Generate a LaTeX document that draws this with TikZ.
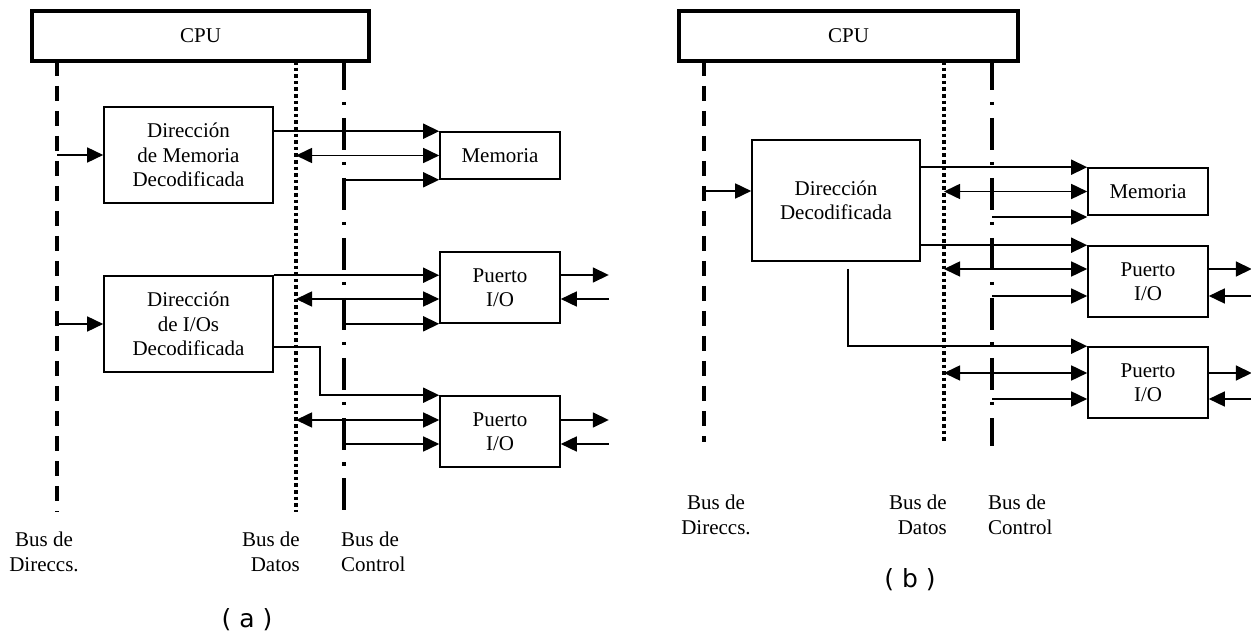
\documentclass[tikz,border=0pt]{standalone}
\usepackage{fontspec}
\setmainfont{Liberation Serif}
\newfontfamily\capfont{DejaVu Sans}
\usetikzlibrary{arrows.meta}
\begin{document}
\begin{tikzpicture}[x=1pt,y=-1pt,
  every node/.style={font=\fontsize{21}{24.5}\selectfont},
  box/.style={draw,line width=1.6pt,inner sep=0pt,align=center,fill=white},
  cpubox/.style={draw,line width=3.5pt,fill=white,inner sep=0pt},
  conn/.style={line width=1.6pt},
  arr/.style={conn,-{Triangle[length=16pt,width=15pt]}},
  darr/.style={conn,{Triangle[length=16pt,width=15pt]}-{Triangle[length=16pt,width=15pt]}},
  abus/.style={line width=3.4pt,dash pattern=on 15pt off 10pt},
  dbus/.style={line width=3.4pt,dash pattern=on 3.6pt off 3pt},
  cbus/.style={line width=3.4pt,dash pattern=on 32pt off 12pt on 3.5pt off 12.5pt,dash phase=3pt},
  lbl/.style={inner sep=0pt},
  captionlbl/.style={font=\capfont\fontsize{25}{28}\selectfont}
]
\useasboundingbox (0,0) rectangle (1251,636);

% ---------------- Panel (a) ----------------
\coordinate (aAt) at (57,61);  \coordinate (aAb) at (57,512);
\coordinate (dAt) at (296,61); \coordinate (dAb) at (296,512);
\coordinate (cAt) at (344,61); \coordinate (cAb) at (344,512);
\draw[abus] (aAt) -- (aAb);
\draw[dbus] (dAt) -- (dAb);
\draw[cbus] (cAt) -- (cAb);

\node[cpubox,minimum width=337pt,minimum height=50pt] (cpuA) at (200.5,36) {CPU};
\node[box,minimum width=169pt,minimum height=96pt] (memdecA) at (188.5,155) {Dirección\\de Memoria\\Decodificada};
\node[box,minimum width=169pt,minimum height=96pt] (iodecA) at (188.5,324) {Dirección\\de I/Os\\Decodificada};
\node[box,minimum width=120pt,minimum height=47pt] (memA) at (500,155.5) {Memoria};
\node[box,minimum width=120pt,minimum height=71pt] (p1A) at (500,287.5) {Puerto\\I/O};
\node[box,minimum width=120pt,minimum height=71pt] (p2A) at (500,431.5) {Puerto\\I/O};

\draw[arr] (aAt |- memdecA.west) -- (memdecA.west);
\draw[arr] (memdecA.east |- memA.north) -- (memA.north west);
\draw[darr] (dAt |- memA.west) -- (memA.west);
\draw[arr] (cAt |- memA.south west) -- (memA.south west);

\draw[arr] (aAt |- iodecA.west) -- (iodecA.west);
\draw[arr] (iodecA.north east) -- (p1A.west |- iodecA.north east);
\draw[darr] (dAt |- 0,299) -- (p1A.west |- 0,299);
\draw[arr] (cAt |- p1A.south west) -- (p1A.south west);
\coordinate (bendA) at (320,347);
\draw[arr] (iodecA.east |- bendA) -- (bendA) |- (p2A.north west);
\draw[darr] (dAt |- 0,420) -- (p2A.west |- 0,420);
\draw[arr] (cAt |- 0,444) -- (p2A.west |- 0,444);

\draw[arr] (p1A.east |- 0,275) -- ++(48,0);
\draw[arr] (p1A.east |- 0,299) ++(48,0) -- (p1A.east |- 0,299);
\draw[arr] (p2A.east |- 0,420) -- ++(48,0);
\draw[arr] (p2A.east |- 0,444) ++(48,0) -- (p2A.east |- 0,444);

\node[lbl,align=center] (laA) at (44,552) {Bus de\\Direccs.};
\node[lbl,align=right,anchor=east] (ldA) at (300,552) {Bus de\\Datos};
\node[lbl,align=left,anchor=west] (lcA) at (341,552) {Bus de\\Control};
\node[captionlbl] (capA) at (247,620) {( a )};

% ---------------- Panel (b) ----------------
\coordinate (aBt) at (704,61); \coordinate (aBb) at (704,442);
\coordinate (dBt) at (944,61); \coordinate (dBb) at (944,442);
\coordinate (cBt) at (992,61); \coordinate (cBb) at (992,446);
\draw[abus] (aBt) -- (aBb);
\draw[dbus] (dBt) -- (dBb);
\draw[cbus] (cBt) -- (cBb);

\node[cpubox,minimum width=339pt,minimum height=50pt] (cpuB) at (848.5,36) {CPU};
\node[box,minimum width=168pt,minimum height=121pt] (decB) at (836,200.5) {Dirección\\Decodificada};
\node[box,minimum width=120pt,minimum height=47pt] (memB) at (1148,191.5) {Memoria};
\node[box,minimum width=120pt,minimum height=71pt] (p1B) at (1148,281.5) {Puerto\\I/O};
\node[box,minimum width=120pt,minimum height=71pt] (p2B) at (1148,382.5) {Puerto\\I/O};

\draw[arr] (aBt |- 0,191) -- (decB.west |- 0,191);
\draw[arr] (decB.east |- memB.north) -- (memB.north west);
\draw[darr] (dBt |- memB.west) -- (memB.west);
\draw[arr] (cBt |- 0,217) -- (memB.west |- 0,217);

\draw[arr] (decB.east |- p1B.north) -- (p1B.north west);
\draw[darr] (dBt |- 0,269) -- (p1B.west |- 0,269);
\draw[arr] (cBt |- 0,296) -- (p1B.west |- 0,296);

\coordinate (tB) at (848,269);
\draw[arr] (tB) |- (p2B.north west);
\draw[darr] (dBt |- 0,373) -- (p2B.west |- 0,373);
\draw[arr] (cBt |- 0,399) -- (p2B.west |- 0,399);

\draw[arr] (p1B.east |- 0,269) -- ++(43,0);
\draw[arr] (p1B.east |- 0,296) ++(43,0) -- (p1B.east |- 0,296);
\draw[arr] (p2B.east |- 0,373) -- ++(43,0);
\draw[arr] (p2B.east |- 0,399) ++(43,0) -- (p2B.east |- 0,399);

\node[lbl,align=center] (laB) at (716,515) {Bus de\\Direccs.};
\node[lbl,align=right,anchor=east] (ldB) at (947,515) {Bus de\\Datos};
\node[lbl,align=left,anchor=west] (lcB) at (988,515) {Bus de\\Control};
\node[captionlbl] (capB) at (910,580) {( b )};
\end{tikzpicture}
\end{document}
